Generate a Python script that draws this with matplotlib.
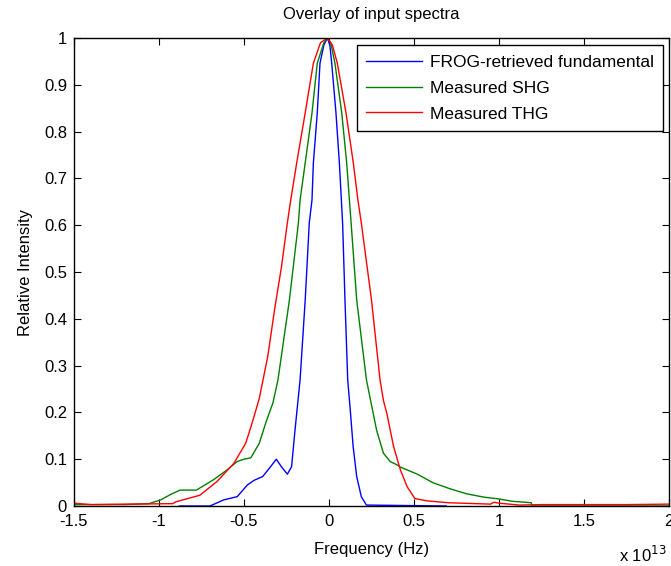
import numpy as np
import matplotlib
matplotlib.use('Agg')
import matplotlib.pyplot as plt

# frequency in units of 1e13 Hz
frog_f = [-0.88, -0.70, -0.62, -0.54, -0.48, -0.44, -0.39, -0.35, -0.31, -0.28, -0.245, -0.22,
          -0.20, -0.18, -0.17, -0.14, -0.116, -0.10, -0.092, -0.069, -0.053, -0.03, -0.01,
          0.005, 0.016, 0.041, 0.061, 0.08, 0.094, 0.11, 0.124, 0.142, 0.163, 0.19, 0.22, 0.69]
frog_i = [0.0, 0.0, 0.013, 0.02, 0.045, 0.055, 0.063, 0.081, 0.10, 0.084, 0.068, 0.084,
          0.162, 0.234, 0.27, 0.44, 0.605, 0.654, 0.733, 0.84, 0.946, 0.985, 1.0,
          0.985, 0.946, 0.84, 0.733, 0.605, 0.44, 0.27, 0.21, 0.127, 0.063, 0.02, 0.002, 0.0]

shg_f = [-1.5, -1.2, -1.06, -0.99, -0.93, -0.876, -0.78, -0.68, -0.60, -0.54, -0.50, -0.46,
         -0.41, -0.37, -0.33, -0.30, -0.233, -0.18, -0.17, -0.14, -0.10, -0.069, -0.03, -0.01,
         0.01, 0.035, 0.075, 0.104, 0.12, 0.13, 0.163, 0.22, 0.28, 0.32, 0.36, 0.40, 0.42,
         0.52, 0.61, 0.71, 0.81, 0.91, 1.0, 1.08, 1.19, 1.195, 2.0]
shg_i = [0.003, 0.003, 0.005, 0.013, 0.025, 0.034, 0.034, 0.056, 0.077, 0.095, 0.10, 0.103,
         0.134, 0.18, 0.22, 0.27, 0.44, 0.605, 0.654, 0.733, 0.84, 0.946, 0.99, 1.0,
         0.99, 0.946, 0.84, 0.733, 0.654, 0.605, 0.44, 0.27, 0.162, 0.113, 0.095, 0.088, 0.083,
         0.068, 0.05, 0.037, 0.026, 0.019, 0.015, 0.01, 0.007, 0.0, 0.0]

thg_f = [-1.5, -1.4, -1.2, -0.92, -0.9, -0.76, -0.66, -0.56, -0.49, -0.45, -0.41, -0.36, -0.32,
         -0.28, -0.245, -0.225, -0.19, -0.14, -0.092, -0.05, -0.01, 0.02, 0.049, 0.10, 0.143,
         0.17, 0.19, 0.25, 0.30, 0.32, 0.34, 0.38, 0.42, 0.46, 0.505, 0.575, 0.70, 0.95, 0.97,
         1.0, 1.12, 1.25, 1.5, 1.75, 2.0]
thg_i = [0.006, 0.003, 0.004, 0.005, 0.009, 0.023, 0.052, 0.091, 0.134, 0.18, 0.23, 0.32, 0.42,
         0.51, 0.605, 0.654, 0.733, 0.84, 0.946, 0.99, 1.0, 0.985, 0.946, 0.84, 0.733,
         0.654, 0.605, 0.44, 0.27, 0.226, 0.198, 0.127, 0.077, 0.041, 0.016, 0.011, 0.007, 0.004, 0.008,
         0.006, 0.002, 0.003, 0.003, 0.003, 0.004]

labels = ['FROG-retrieved fundamental', 'Measured SHG', 'Measured THG']
xticks = [-1.5, -1, -0.5, 0, 0.5, 1, 1.5, 2]
yticks = np.round(np.arange(0, 1.01, 0.1), 1)

plt.rcParams['font.family'] = ['Liberation Sans', 'DejaVu Sans']
plt.rcParams['font.size'] = 12

fig = plt.figure(figsize=(6.71, 5.66), dpi=100)
ax = fig.add_axes([74/671, 60/566, 595/671, 468/566])

scale = 1e13
ax.plot(np.array(frog_f)*scale, frog_i, color='#0000ff', lw=1.0, label=labels[0])
ax.plot(np.array(shg_f)*scale, shg_i, color='#008000', lw=1.0, label=labels[1])
ax.plot(np.array(thg_f)*scale, thg_i, color='#ff0000', lw=1.0, label=labels[2])

ax.set_xlim(-1.5*scale, 2*scale)
ax.set_ylim(0, 1)
ax.set_xticks([t*scale for t in xticks])
ax.set_xticklabels(['%g' % t for t in xticks])
ax.set_yticks(yticks)
ax.set_yticklabels(['%g' % t for t in yticks])
ax.tick_params(direction='in', top=True, right=True, length=5, width=0.8, labelsize=12)
ax.tick_params(axis='x', pad=6)
ax.tick_params(axis='y', pad=5)
for s in ax.spines.values():
    s.set_linewidth(1.0)

ax.set_title('Overlay of input spectra', fontsize=12, pad=14)
ax.set_xlabel('Frequency (Hz)', labelpad=9)
ax.set_ylabel('Relative Intensity', labelpad=8)
fig.text(619/671, 1 - 555/566, 'x 10$^{13}$', fontsize=12, va='center', ha='left')

leg = ax.legend(loc='upper right', bbox_to_anchor=(0.99, 0.985), fancybox=False, shadow=False,
                edgecolor='black', framealpha=1, handlelength=3.2, borderpad=0.55,
                labelspacing=0.62, handletextpad=0.45, borderaxespad=0, fontsize=12.5)
leg.get_frame().set_linewidth(1.0)

fig.savefig('out.png', dpi=100)
